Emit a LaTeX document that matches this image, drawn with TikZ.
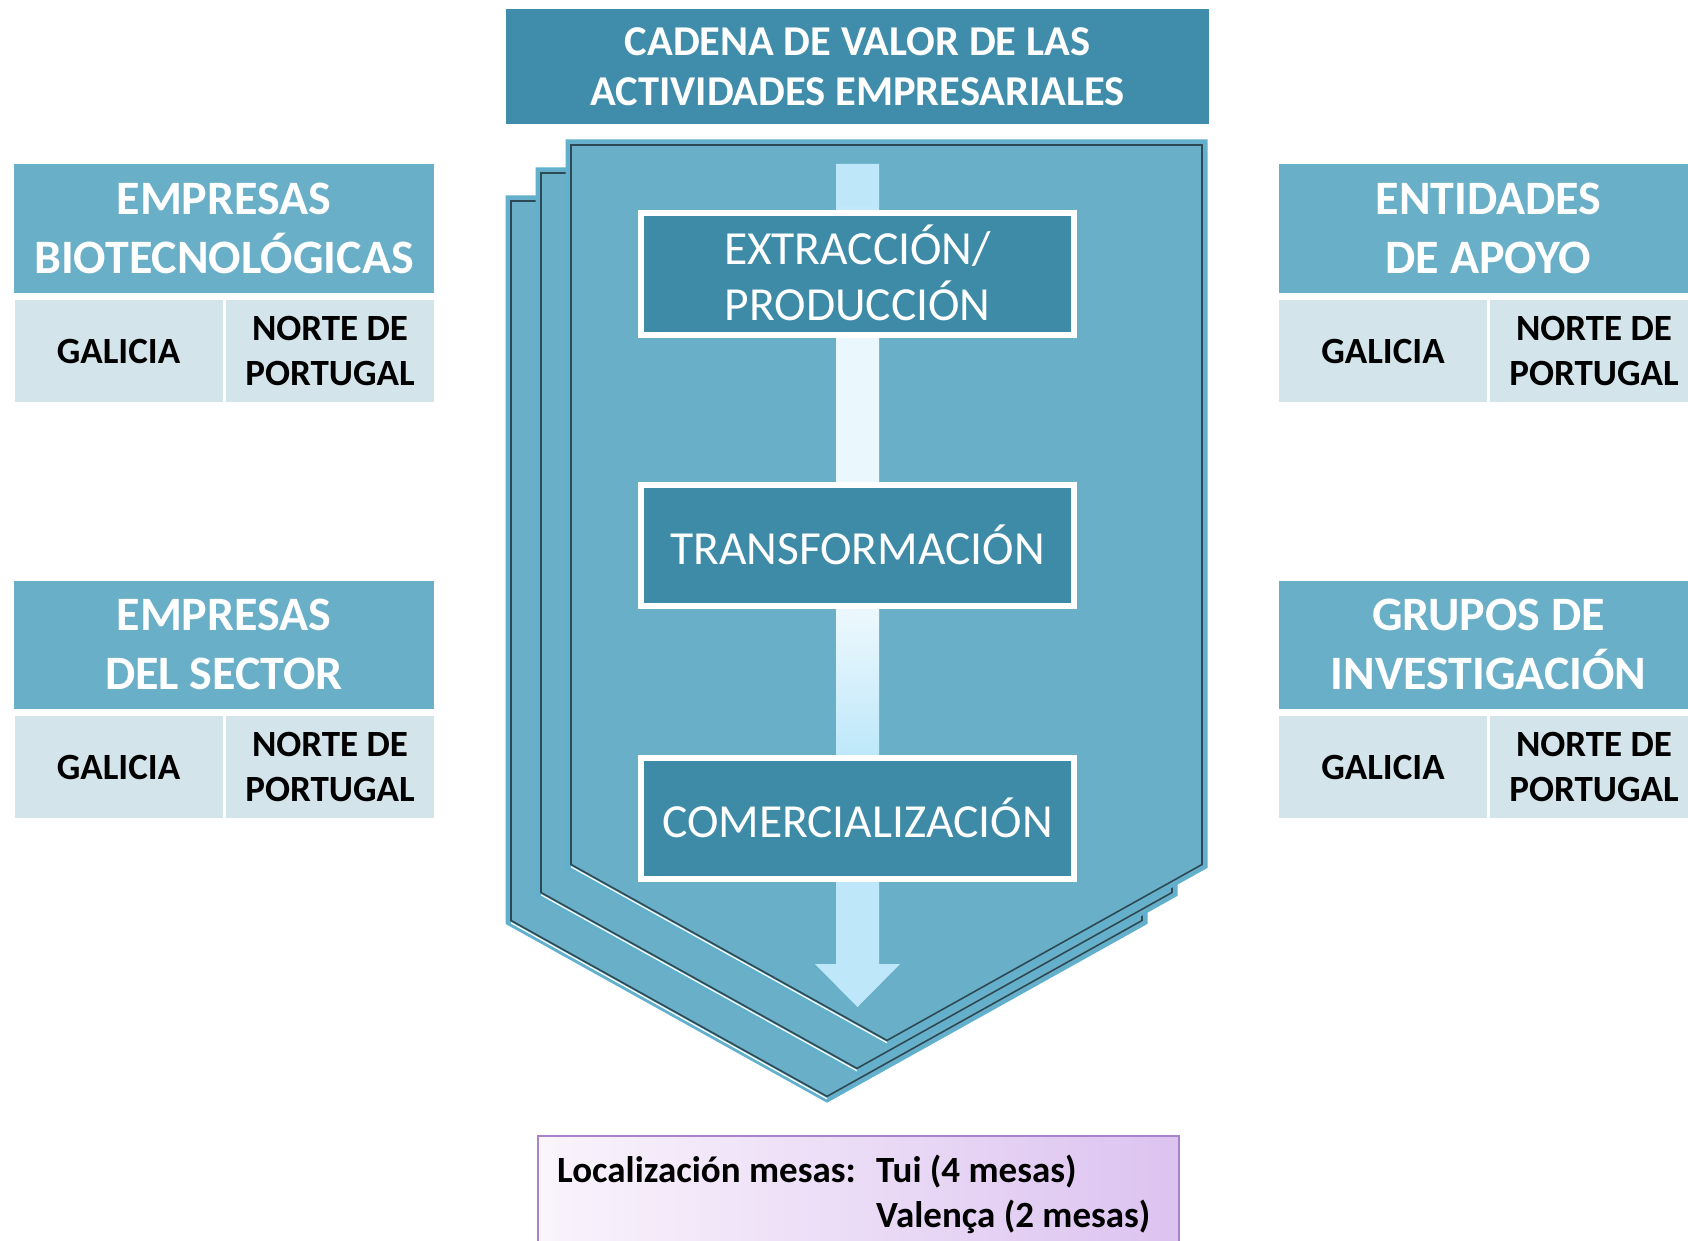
\documentclass[tikz,border=0pt]{standalone}
\usepackage{fontspec}
\setmainfont{Carlito}

\definecolor{titleblue}{RGB}{63,141,171}
\definecolor{chevfill}{RGB}{106,175,200}
\definecolor{chevedge}{RGB}{96,176,206}
\definecolor{chevdark}{RGB}{44,74,86}
\definecolor{headblue}{RGB}{106,175,200}
\definecolor{cellgrey}{RGB}{211,228,235}
\definecolor{stepblue}{RGB}{62,139,168}
\definecolor{arrowblue}{RGB}{190,232,250}
\definecolor{arrowwhite}{RGB}{234,247,253}
\definecolor{notelight}{RGB}{250,244,252}
\definecolor{notedark}{RGB}{220,195,240}
\definecolor{noteedge}{RGB}{167,132,200}

\pgfdeclareverticalshading{arrowfade}{100bp}{color(0bp)=(arrowblue); color(25bp)=(arrowblue); color(40bp)=(arrowblue); color(48bp)=(arrowwhite); color(71bp)=(arrowwhite); color(72.5bp)=(arrowblue); color(100bp)=(arrowblue)}

\begin{document}
\begin{tikzpicture}[x=1pt,y=-1pt,
    titlebox/.style={fill=titleblue, text=white, font=\fontsize{42.5}{50}\selectfont\bfseries,
        align=center, inner sep=0pt, minimum width=703pt, minimum height=115pt},
    headbox/.style={fill=headblue, text=white, font=\fontsize{48}{59}\selectfont\bfseries,
        align=center, inner sep=0pt, minimum width=420pt, minimum height=128pt},
    cellbox/.style={fill=cellgrey, text=black, font=\fontsize{37}{45}\selectfont\bfseries,
        align=center, inner sep=0pt, minimum width=208pt, minimum height=102pt},
    stepbox/.style={fill=stepblue, draw=white, line width=6pt, text=white,
        font=\fontsize{47.5}{56}\selectfont, align=center, inner sep=0pt,
        minimum width=433pt, minimum height=121pt},
    chevron/.style={fill=chevfill, draw=chevedge, line width=3pt, line join=miter},
    chevline/.style={draw=chevdark, line width=1.6pt},
    chevshine/.style={draw=white, line width=1.2pt},
    notebox/.style={left color=notelight, right color=notedark, draw=noteedge, line width=1.5pt,
        inner sep=0pt, minimum width=641pt, minimum height=130pt},
    notetext/.style={text=black, font=\fontsize{37}{42}\selectfont\bfseries, inner sep=0pt}]

    \clip (0,0) rectangle (1688,1241);
    \fill[white] (0,0) rectangle (1688,1241);

    \node[titlebox] (title) at (857.5,66.5) {CADENA DE VALOR DE LAS\\ACTIVIDADES EMPRESARIALES};

    \foreach \dx/\dy in {-60/56,-30/28,0/0} {
        \begin{scope}[shift={(\dx,\dy)}]
            \draw[chevron] (567,141) -- (1206,141) -- (1206,867) -- (887,1045) -- (567,867) -- cycle;
            \draw[chevline] (571,145) -- (1202,145) -- (1202,864.5) -- (887,1040.4) -- (571,864.5) -- cycle;
            \draw[chevshine] (571,866.8) -- (887,1042.8);
        \end{scope}
    }

    \shade[shading=arrowfade] (836,164) -- (879,164) -- (879,964) -- (900,964)
        -- (857.5,1007) -- (815,964) -- (836,964) -- cycle;

    \node[stepbox] (extraccion) at (857.5,274) {\raisebox{3pt}{EXTRACCIÓN/}\\\raisebox{3pt}{PRODUCCIÓN}};
    \node[stepbox] (transformacion) at (857.5,545.5) {\raisebox{2pt}{TRANSFORMACIÓN}};
    \node[stepbox] (comercializacion) at (857.5,818.5) {\raisebox{2pt}{COMERCIALIZACIÓN}};

    \node[headbox] (biotec) at (224,228.5) {EMPRESAS\\BIOTECNOLÓGICAS};
    \node[cellbox] (biotecgal) at (118.5,351) {GALICIA};
    \node[cellbox] (biotecpor) at (330,351) {NORTE DE\\PORTUGAL};

    \node[headbox] (sector) at (224,644.5) {EMPRESAS\\DEL SECTOR};
    \node[cellbox] (sectorgal) at (118.5,767) {GALICIA};
    \node[cellbox] (sectorpor) at (330,767) {NORTE DE\\PORTUGAL};

    \node[headbox] (apoyo) at (1488.5,228.5) {ENTIDADES\\DE APOYO};
    \node[cellbox] (apoyogal) at (1383,351) {GALICIA};
    \node[cellbox] (apoyopor) at (1594,351) {NORTE DE\\PORTUGAL};

    \node[headbox] (grupos) at (1488.5,644.5) {GRUPOS DE\\INVESTIGACIÓN};
    \node[cellbox] (gruposgal) at (1383,767) {GALICIA};
    \node[cellbox] (grupospor) at (1594,767) {NORTE DE\\PORTUGAL};

    \node[notebox] (mesas) at (858.5,1201) {};
    \node[notetext, anchor=base west] (localizacion) at (557,1182) {Localización mesas:};
    \node[notetext, anchor=base west] (tui) at (876,1182) {Tui (4 mesas)};
    \node[notetext, anchor=base west] (valenca) at (876,1227) {Valença (2 mesas)};

\end{tikzpicture}
\end{document}
